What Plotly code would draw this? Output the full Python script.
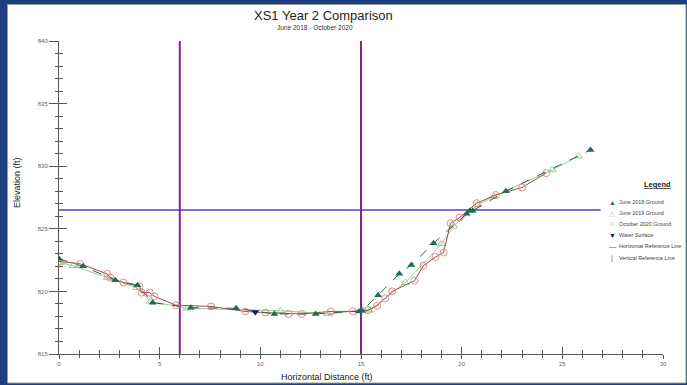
import plotly.graph_objects as go

# ---------------- data ----------------
dist_2018 = [0.0, 1.2, 2.8, 3.9, 4.65, 6.55, 8.8, 10.7, 12.75, 14.9, 15.05, 15.85, 16.9, 17.5, 18.6, 20.25, 20.4, 20.55, 22.2, 26.4]
elev_2018 = [822.6, 822.0, 820.9, 820.5, 819.1, 818.7, 818.65, 818.2, 818.2, 818.4, 818.45, 819.7, 821.4, 822.1, 823.85, 826.2, 826.45, 826.45, 828.0, 831.3]

dist_2019 = [0.05, 0.7, 2.4, 3.85, 4.55, 6.35, 11.0, 13.35, 15.1, 15.45, 17.2, 19.0, 19.6, 20.8, 21.6, 24.5, 25.8]
elev_2019 = [822.3, 822.05, 821.1, 820.3, 819.2, 818.65, 818.45, 818.2, 818.5, 818.5, 820.7, 823.8, 825.2, 826.9, 827.6, 829.7, 830.8]

dist_2020 = [0.0, 1.05, 2.4, 2.55, 3.2, 4.0, 4.1, 4.5, 4.75, 5.8, 7.55, 9.25, 10.25, 11.4, 12.05, 13.5, 14.6, 15.35, 15.8, 16.2, 16.55, 17.65, 18.1, 18.7, 19.1, 19.45, 19.9, 20.75, 21.7, 23.0, 24.2]
elev_2020 = [822.4, 822.2, 821.4, 821.1, 820.7, 820.4, 819.9, 819.9, 819.6, 818.9, 818.8, 818.4, 818.3, 818.2, 818.2, 818.4, 818.4, 818.5, 818.85, 819.45, 820.0, 820.85, 822.05, 822.75, 823.1, 825.45, 825.9, 827.05, 827.7, 828.3, 829.45]

water_dist = [9.75]
water_elev = [818.35]

href_elev = 826.5
href_dist = [0.0, 26.9]
vref_dist = [6.0, 15.0]
vref_elev = [815.0, 840.0]

x_ticks = [0, 5, 10, 15, 20, 25, 30]
y_ticks = [815, 820, 825, 830, 835, 840]

legend_labels = ["June 2018 Ground", "June 2019 Ground", "October 2020 Ground",
                 "Water Surface", "Horizontal Reference Line", "Vertical Reference Line"]

# ---------------- styling ----------------
FONT = "Liberation Sans, Arial, sans-serif"
C18 = "#1c6b52"
C19 = "#8fd08f"
C20 = "#e38b8b"
C20L = "#9a4d4d"
CWS = "#14145e"
CH = "#5540c0"
CV = "#8a1f90"

L, R, T, B = 59, 24, 41, 31
W, H = 687, 385
PW, PH = W - L - R, H - T - B


def px_x(p):
    return (p - L) / PW


def px_y(p):
    return (H - B - p) / PH


fig = go.Figure()

# reference lines
fig.add_trace(go.Scatter(x=href_dist, y=[href_elev] * len(href_dist), mode="lines",
                         line=dict(color=CH, width=1.5), hoverinfo="skip"))
for vx in vref_dist:
    fig.add_trace(go.Scatter(x=[vx] * len(vref_elev), y=vref_elev, mode="lines",
                             line=dict(color=CV, width=2), hoverinfo="skip"))

fig.add_trace(go.Scatter(x=dist_2019, y=elev_2019, mode="lines+markers",
                         line=dict(color=C19, width=1),
                         marker=dict(symbol="triangle-up-open", size=7, color=C19, line=dict(width=1))))
fig.add_trace(go.Scatter(x=dist_2020, y=elev_2020, mode="lines+markers",
                         line=dict(color=C20L, width=1),
                         marker=dict(symbol="circle-open", size=7, color=C20, line=dict(width=1))))
fig.add_trace(go.Scatter(x=dist_2018, y=elev_2018, mode="lines+markers",
                         line=dict(color="#3d5c52", width=1, dash="dash"),
                         marker=dict(symbol="triangle-up", size=7, color=C18)))
fig.add_trace(go.Scatter(x=water_dist, y=water_elev, mode="markers",
                         marker=dict(symbol="triangle-down", size=7, color=CWS)))

# invisible trace for the overlay axes (inside tick marks)
fig.add_trace(go.Scatter(x=[0], y=[815], xaxis="x2", yaxis="y2", mode="markers",
                         marker=dict(opacity=0), hoverinfo="skip"))

axcol = "#555555"
fig.update_layout(
    width=W, height=H,
    margin=dict(l=L, r=R, t=T, b=B),
    paper_bgcolor="#1d3e7f",
    plot_bgcolor="rgba(0,0,0,0)",
    showlegend=False,
    font=dict(family=FONT, color="#333333"),
    xaxis=dict(range=[0, 30], tickvals=x_ticks, ticktext=[str(v) for v in x_ticks],
               showgrid=False, zeroline=False, showline=True, linecolor=axcol, linewidth=1,
               ticks="outside", ticklen=4, tickcolor=axcol, tickwidth=1, automargin=False,
               tickfont=dict(size=6, color="#666666"),
               minor=dict(dtick=1, tick0=0, ticks="outside", ticklen=3, tickcolor=axcol, showgrid=False)),
    yaxis=dict(range=[815, 840], tickvals=y_ticks, ticktext=[str(v) for v in y_ticks],
               showgrid=False, zeroline=False, showline=True, linecolor=axcol, linewidth=1,
               ticks="outside", ticklen=9, tickcolor=axcol, tickwidth=1, automargin=False,
               tickfont=dict(size=6, color="#666666"),
               minor=dict(dtick=1, tick0=815, ticks="outside", ticklen=3, tickcolor=axcol, showgrid=False)),
    xaxis2=dict(range=[0, 30], overlaying="x", anchor="y2", tickvals=x_ticks, showticklabels=False,
                showgrid=False, zeroline=False, showline=False, automargin=False,
                ticks="inside", ticklen=7, tickcolor=axcol, tickwidth=1,
                minor=dict(dtick=1, tick0=0, ticks="inside", ticklen=4, tickcolor=axcol, showgrid=False)),
    yaxis2=dict(range=[815, 840], overlaying="y", anchor="x2", side="left", tickvals=y_ticks,
                showticklabels=False, showgrid=False, zeroline=False, showline=False, automargin=False,
                ticks="inside", ticklen=8, tickcolor=axcol, tickwidth=1,
                minor=dict(dtick=1, tick0=815, ticks="inside", ticklen=4, tickcolor=axcol, showgrid=False)),
)

# white page with thin gray frame
fig.add_shape(type="rect", xref="paper", yref="paper", layer="below",
              x0=px_x(7.5), x1=px_x(686), y0=px_y(383), y1=px_y(4.5),
              fillcolor="white", line=dict(color="#9a9a9a", width=1))

ann = []
ann.append(dict(text="XS1 Year 2 Comparison", x=px_x(323), y=px_y(15), font=dict(size=13, color="#222222"),
                xanchor="center", yanchor="middle"))
ann.append(dict(text="June 2018 - October 2020", x=px_x(315), y=px_y(27), font=dict(size=6.5, color="#333333"),
                xanchor="center", yanchor="middle"))
ann.append(dict(text="Horizontal Distance (ft)", x=px_x(327), y=px_y(377), font=dict(size=9, color="#222222"),
                xanchor="center", yanchor="middle"))
ann.append(dict(text="Elevation (ft)", x=px_x(17), y=px_y(183), textangle=-90, font=dict(size=9, color="#222222"),
                xanchor="center", yanchor="middle"))
ann.append(dict(text="<b><u>Legend</u></b>", x=px_x(657), y=px_y(184), font=dict(size=7.5, color="#222222"),
                xanchor="center", yanchor="middle"))

glyphs = [("▲", C18), ("△", C19), ("○", C20), ("▼", CWS), ("—", CH), ("|", "#c02030")]
ys = [202, 213, 224, 235, 246, 257.5]
for (g, c), lab, yy in zip(glyphs, legend_labels, ys):
    ann.append(dict(text=g, x=px_x(612), y=px_y(yy), font=dict(size=7, color=c),
                    xanchor="center", yanchor="middle"))
    ann.append(dict(text=lab, x=px_x(617), y=px_y(yy), font=dict(size=5.4, color="#444444"),
                    xanchor="left", yanchor="middle"))

for a in ann:
    a.update(xref="paper", yref="paper", showarrow=False)
fig.update_layout(annotations=ann)

fig.write_html("out.html", config={"displayModeBar": False},
               post_script="document.body.style.margin='0';document.body.style.overflow='hidden';")
